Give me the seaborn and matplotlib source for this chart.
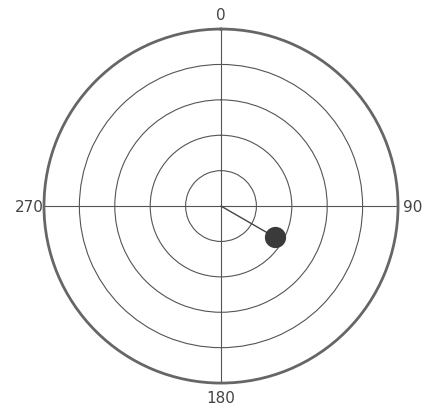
import numpy as np
import pandas as pd
import matplotlib
matplotlib.use("Agg")
import matplotlib.pyplot as plt
import seaborn as sns

# ================= DATA =================
point_angle_deg = [120]
point_radius = [1.75]
ring_levels = [1, 2, 3, 4]
r_max = 5
angle_ticks = [0, 90, 180, 270]
angle_labels = ["0", "90", "180", "270"]

# ================= PLOT =================
sns.set_style("white")
plt.rcParams["font.family"] = ["DejaVu Sans"]

fig = plt.figure(figsize=(4.25, 4.06), dpi=100)
ax = fig.add_axes([0.1035, 0.054, 0.833, 0.872], projection="polar")
ax.set_theta_zero_location("N")
ax.set_theta_direction(-1)

pts = pd.DataFrame({"theta": np.deg2rad(point_angle_deg), "r": point_radius})
# line from the centre to each point
seg = pd.DataFrame({
    "theta": np.repeat(pts["theta"].values, 2),
    "r": np.ravel([[0, r] for r in pts["r"]]),
})
sns.lineplot(data=seg, x="theta", y="r", ax=ax, color="#444444", lw=1.0,
             sort=False, estimator=None)
sns.scatterplot(data=pts, x="theta", y="r", ax=ax, s=200, color="#3a3a3a",
                edgecolor="#3a3a3a", zorder=5)

ax.set_ylim(0, r_max)
ax.set_rticks(ring_levels)
ax.set_yticklabels([])
ax.set_xticks(np.deg2rad(angle_ticks))
ax.set_xticklabels(angle_labels, fontsize=11, color="#444444")
ax.tick_params(axis="x", pad=0)
ax.grid(True, color="#555555", lw=0.8)
ax.spines["polar"].set_color("#666666")
ax.spines["polar"].set_linewidth(2.0)
ax.set_xlabel("")
ax.set_ylabel("")

fig.savefig("out.png", dpi=100)
